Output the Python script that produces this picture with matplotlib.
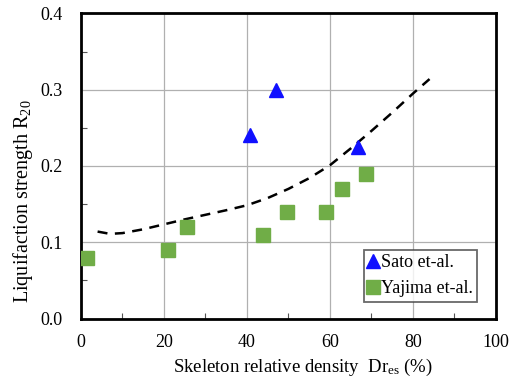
import matplotlib
matplotlib.use("Agg")
import matplotlib.pyplot as plt
from matplotlib.ticker import MultipleLocator

plt.rcParams['font.family'] = ['Liberation Serif', 'DejaVu Serif']
plt.rcParams['mathtext.fontset'] = 'custom'
plt.rcParams['mathtext.rm'] = 'Liberation Serif'
plt.rcParams['mathtext.it'] = 'Liberation Serif:italic'

# Sato et al. test results
sato_dr = [40.8, 47.0, 66.7]
sato_r20 = [0.24, 0.30, 0.225]

# Yajima et al. test results
yajima_dr = [1.5, 21.0, 25.6, 43.9, 49.7, 59.0, 63.0, 68.7]
yajima_r20 = [0.08, 0.09, 0.12, 0.11, 0.14, 0.14, 0.17, 0.19]

# Trend curve
trend_dr = [4, 7, 10, 15, 20, 25, 30, 35, 40, 45, 50, 55, 60, 65, 70, 75, 80, 84]
trend_r20 = [0.114, 0.111, 0.112, 0.117, 0.1235, 0.130, 0.136, 0.142, 0.1485,
             0.158, 0.170, 0.184, 0.201, 0.223, 0.246, 0.270, 0.295, 0.314]

x_ticks = [0, 20, 40, 60, 80, 100]
y_ticks = [0.0, 0.1, 0.2, 0.3, 0.4]

fig = plt.figure(figsize=(5.11, 3.78), dpi=100)
ax = fig.add_axes([0.1585, 0.1574, 0.812, 0.8069])

ax.plot(trend_dr, trend_r20, color='black', linestyle=(0, (4, 3)), linewidth=1.8, zorder=2)
ax.plot(sato_dr, sato_r20, linestyle='none', marker='^', markersize=10,
        color='#1010FF', markeredgecolor='#1010FF', label='Sato et-al.', zorder=3)
ax.plot(yajima_dr, yajima_r20, linestyle='none', marker='s', markersize=9.5,
        color='#70AD47', markeredgecolor='#70AD47', label='Yajima et-al.', zorder=3)

ax.set_xlim(0, 100)
ax.set_ylim(0, 0.4)
ax.set_xticks(x_ticks)
ax.set_yticks(y_ticks)
ax.set_xticklabels([str(v) for v in x_ticks])
ax.set_yticklabels([f"{v:.1f}" for v in y_ticks])
ax.xaxis.set_minor_locator(MultipleLocator(10))
ax.yaxis.set_minor_locator(MultipleLocator(0.05))
ax.tick_params(which='major', length=0, labelsize=13)
ax.tick_params(axis='x', which='major', pad=11)
ax.tick_params(axis='y', which='major', pad=13)
ax.tick_params(which='minor', direction='in', length=4, width=0.8, color='#555555')
ax.grid(True, which='major', color='#B0B0B0', linewidth=0.9)
ax.set_axisbelow(True)
for s in ax.spines.values():
    s.set_linewidth(2)
    s.set_color('black')

ax.set_xlabel(r'Skeleton relative density  Dr$_{\mathrm{es}}$ (%)', fontsize=13.5)
ax.set_ylabel(r'Liquifaction strength R$_{\mathrm{20}}$', fontsize=14.5)
ax.xaxis.set_label_coords(0.534, -0.125)
ax.yaxis.set_label_coords(-0.112, 0.385)

leg = ax.legend(loc='lower right', bbox_to_anchor=(0.955, 0.055), fontsize=13,
                frameon=True, fancybox=False, handlelength=0.55, handletextpad=0.15,
                borderpad=0.25, labelspacing=0.5, borderaxespad=0)
leg.get_frame().set_edgecolor('#444444')
leg.get_frame().set_linewidth(1.3)

fig.savefig('out.png', dpi=100)
